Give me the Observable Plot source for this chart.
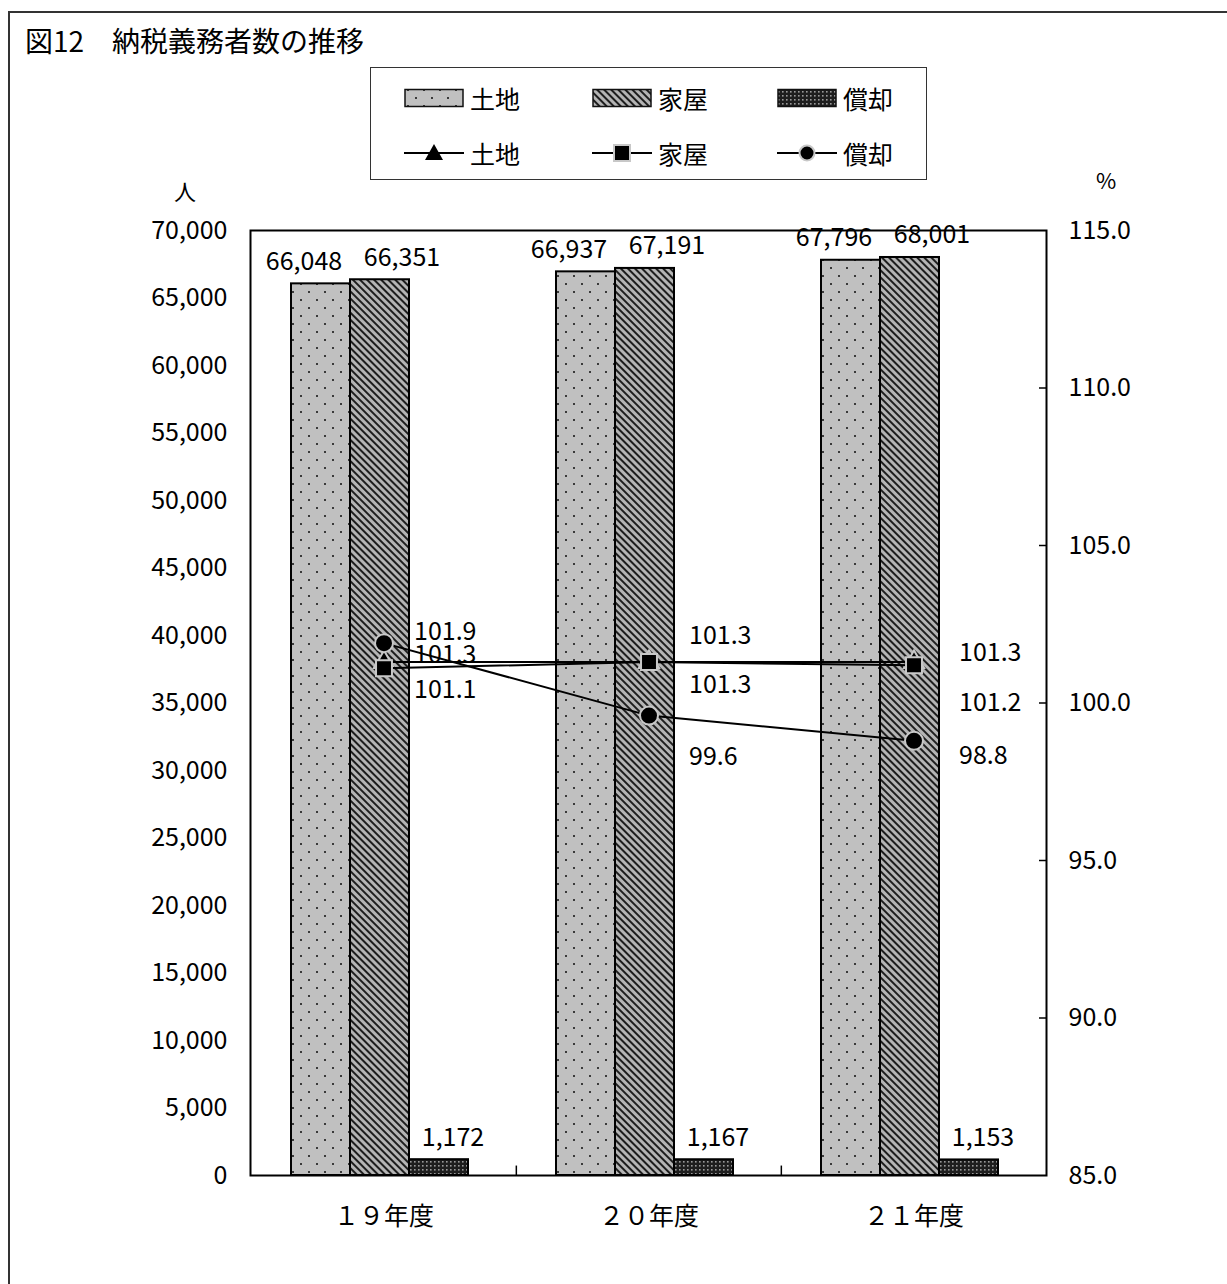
<!DOCTYPE html>
<html><head><meta charset="utf-8">
<script src="https://cdn.jsdelivr.net/npm/d3@7"></script>
<script src="https://cdn.jsdelivr.net/npm/@observablehq/plot@0.6"></script>
<style>
body{margin:0;background:#fff;overflow:hidden;font-family:"Noto Sans CJK JP",sans-serif;color:#000;}
#wrap{position:relative;width:1227px;height:1284px;overflow:hidden;background:#fff;}
#outer{position:absolute;left:8px;top:11px;width:1300px;height:1300px;border:2px solid #333;}
#title{position:absolute;left:25px;top:23px;font-size:28px;line-height:34px;white-space:pre;}
.layer{position:absolute;left:0;top:0;}
#legend{position:absolute;left:370px;top:67px;width:555px;height:111px;border:1.5px solid #333;background:#fff;}
.li{position:absolute;display:flex;align-items:center;font-size:25px;line-height:26px;}
.li svg{margin-right:6px;}
.unit{position:absolute;font-size:22px;line-height:26px;}
</style></head>
<body>
<svg width="0" height="0" style="position:absolute">
<defs>
<pattern id="pLand" width="16" height="16" patternUnits="userSpaceOnUse">
 <rect width="16" height="16" fill="#c0c0c0"/>
 <rect x="3" y="3" width="2" height="2" fill="#3a3a3a"/>
 <rect x="11" y="11" width="2" height="2" fill="#3a3a3a"/>
</pattern>
<pattern id="pHouse" width="5" height="5" patternUnits="userSpaceOnUse" patternTransform="rotate(-45)">
 <rect width="5" height="5" fill="#b4b4b4"/>
 <rect width="2" height="5" fill="#1e1e1e"/>
</pattern>
<pattern id="pDep" width="4" height="4" patternUnits="userSpaceOnUse">
 <rect width="4" height="4" fill="#1e1e1e"/>
 <rect x="1" y="1" width="1.6" height="1.6" fill="#9a9a9a"/>
</pattern>
</defs></svg>
<div id="wrap">
 <div id="outer"></div>
 <div id="title">図12　納税義務者数の推移</div>
 <div id="legend"></div>
 <div class="unit" style="left:174px;top:177px;">人</div>
 <div class="unit" style="left:1096px;top:166px;">%</div>
</div>
<script>
// ---- data ----
const categories = ["１９年度", "２０年度", "２１年度"];
const seriesNames = ["土地", "家屋", "償却"];
const landCount = [66048, 66937, 67796];
const houseCount = [66351, 67191, 68001];
const depCount = [1172, 1167, 1153];
const landRate = [101.3, 101.3, 101.3];
const houseRate = [101.1, 101.3, 101.2];
const depRate = [101.9, 99.6, 98.8];
const countTicks = [0, 5000, 10000, 15000, 20000, 25000, 30000, 35000, 40000, 45000, 50000, 55000, 60000, 65000, 70000];
const rateTicks = [85, 90, 95, 100, 105, 110, 115];

// ---- layout / style ----
const W = 1227, H = 1284, mT = 230, mB = 109, mL = 250, mR = 181;
const FONT = "'Noto Sans CJK JP', sans-serif";
const fills = {"土地": "url(#pLand)", "家屋": "url(#pHouse)", "償却": "url(#pDep)"};
const symbols = {"土地": "triangle", "家屋": "square", "償却": "circle"};
const symbolR = {"土地": 7.5, "家屋": 9, "償却": 9};
const counts = {"土地": landCount, "家屋": houseCount, "償却": depCount};
const rates = {"土地": landRate, "家屋": houseRate, "償却": depRate};

const bars = [];
const lines = [];
categories.forEach((c, i) => {
  seriesNames.forEach(s => {
    bars.push({cat: c, series: s, value: counts[s][i]});
    lines.push({cat: c, series: s, value: rates[s][i], idx: i});
  });
});

const fmt = d3.format(",");
const barDx = {"土地": -17, "家屋": 22, "償却": 14};

const barPlot = Plot.plot({
  width: W, height: H, marginTop: mT, marginBottom: mB, marginLeft: mL, marginRight: mR,
  style: {background: "transparent", fontFamily: FONT, fontSize: "25px", color: "#000"},
  fx: {domain: categories, padding: 0, axis: null},
  x: {domain: seriesNames, paddingInner: 0, paddingOuter: 0.72, align: 0.46, axis: null},
  y: {domain: [0, 70000]},
  marks: [
    Plot.axisY(countTicks, {anchor: "left", tickSize: 0, tickPadding: 24, tickFormat: fmt, fontSize: 25, label: null}),
    ...seriesNames.map(s => Plot.barY(bars.filter(d => d.series === s), {
      fx: "cat", x: "series", y: "value", fill: fills[s], stroke: "black", strokeWidth: 2
    })),
    ...seriesNames.map(s => Plot.text(bars.filter(d => d.series === s), {
      fx: "cat", x: "series", y: "value", text: d => fmt(d.value), dy: -22, dx: barDx[s], fontSize: 25, fill: "black"
    }))
  ]
});
barPlot.classList.add("layer");
document.getElementById("wrap").appendChild(barPlot);

// percentage label nudges (per series, per year)
const labDx = [30, 40, 45];
const labDy = {"土地": [-7, -26, -9], "家屋": [22, 23, 38], "償却": [-11, 41, 15]};
const bw = (W - mL - mR) / categories.length;

const labelMarks = [];
seriesNames.forEach(s => {
  categories.forEach((c, i) => {
    labelMarks.push(Plot.text(lines.filter(d => d.series === s && d.idx === i), {
      x: "cat", y: "value", text: d => d.value.toFixed(1), textAnchor: "start",
      dx: labDx[i], dy: labDy[s][i], fontSize: 25, fill: "black"
    }));
  });
});

const linePlot = Plot.plot({
  width: W, height: H, marginTop: mT, marginBottom: mB, marginLeft: mL, marginRight: mR,
  style: {background: "transparent", fontFamily: FONT, fontSize: "25px", color: "#000"},
  x: {type: "band", domain: categories, padding: 0},
  y: {domain: [85, 115]},
  marks: [
    Plot.frame({stroke: "black", strokeWidth: 2}),
    Plot.axisY(rateTicks.slice(1, -1), {anchor: "right", tickSize: 8, dx: -8, tickPadding: 22, tickFormat: d => d.toFixed(1), fontSize: 25, label: null, strokeWidth: 1.5}),
    Plot.axisY([85, 115], {anchor: "right", tickSize: 0, tickPadding: 22, tickFormat: d => d.toFixed(1), fontSize: 25, label: null}),
    Plot.axisX({anchor: "bottom", tickSize: 0, tickPadding: 32, fontSize: 25, label: null}),
    Plot.ruleX(categories.slice(1), {x: d => d, y1: 85, y2: 85.3, dx: -bw / 2, stroke: "black", strokeWidth: 1.5}),
    ...seriesNames.flatMap(s => [
      Plot.line(lines.filter(d => d.series === s), {x: "cat", y: "value", stroke: "black", strokeWidth: 2}),
      Plot.dot(lines.filter(d => d.series === s), {x: "cat", y: "value", symbol: symbols[s], r: symbolR[s], fill: "black", stroke: "#c8c8c8", strokeWidth: 2})
    ]),
    ...labelMarks
  ]
});
linePlot.classList.add("layer");
document.getElementById("wrap").appendChild(linePlot);

// ---- legend (HTML) ----
const legend = document.getElementById("legend");
const colX = [33, 221, 406];
seriesNames.forEach((s, k) => {
  const a = document.createElement("div");
  a.className = "li";
  a.style.left = colX[k] + "px"; a.style.top = "17px";
  a.innerHTML = `<svg width="60" height="24"><rect x="1" y="3.5" width="58" height="17" fill="${fills[s]}" stroke="#111" stroke-width="1.5"/></svg><span>${s}</span>`;
  legend.appendChild(a);
  const b = document.createElement("div");
  b.className = "li";
  b.style.left = colX[k] + "px"; b.style.top = "72px";
  let m = "";
  if (symbols[s] === "triangle") m = `<path d="M30,3 L39,19 L21,19 Z" fill="black"/>`;
  if (symbols[s] === "square") m = `<rect x="22" y="4" width="16" height="16" fill="black" stroke="#c8c8c8" stroke-width="2"/>`;
  if (symbols[s] === "circle") m = `<circle cx="30" cy="12" r="7.5" fill="black" stroke="#c8c8c8" stroke-width="2"/>`;
  b.innerHTML = `<svg width="60" height="24"><line x1="0" x2="60" y1="12" y2="12" stroke="black" stroke-width="2"/>${m}</svg><span>${s}</span>`;
  legend.appendChild(b);
});
</script>
</body></html>
